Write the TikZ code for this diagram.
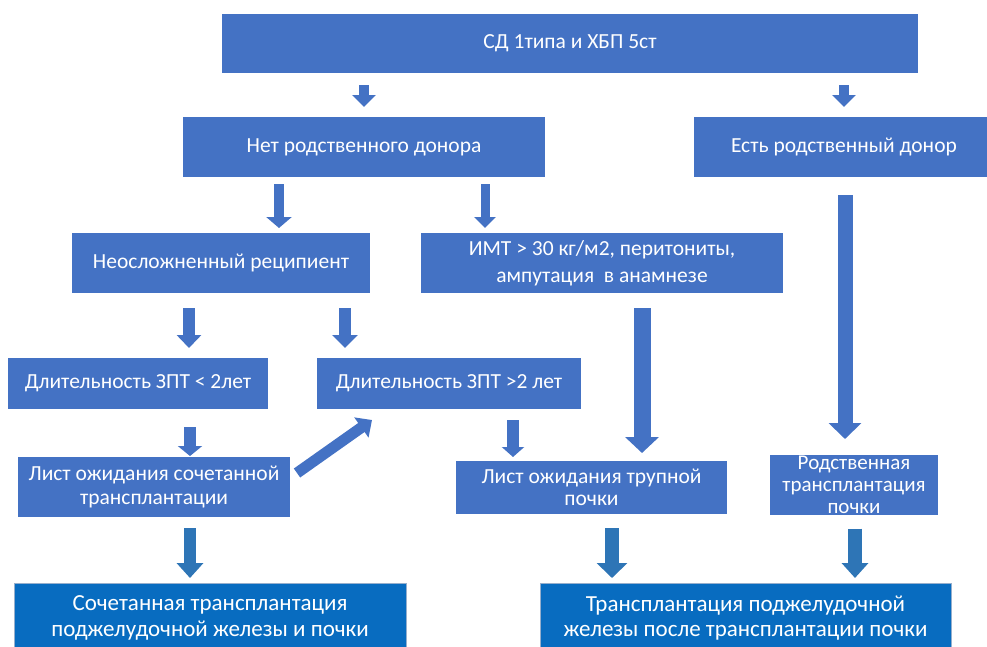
\documentclass[tikz,border=0pt]{standalone}
\usepackage{fontspec}
\setmainfont{Carlito}
\usetikzlibrary{arrows.meta,calc}
\definecolor{boxblue}{RGB}{68,114,196}
\definecolor{darkblue}{RGB}{8,108,192}
\definecolor{botedge}{RGB}{150,175,205}
\definecolor{arrdark}{RGB}{46,117,182}
\begin{document}
\begin{tikzpicture}[x=1pt,y=-1pt,
  box/.style={fill=boxblue, text=white, inner sep=1pt, outer sep=0pt,
    anchor=north west, align=center, font=\fontsize{21.5}{23.5}\selectfont},
  bot/.style={box, fill=darkblue, draw=botedge, line width=0.6pt,
    font=\fontsize{23}{25.5}\selectfont},
  wh/.style 2 args={minimum width=#1pt, minimum height=#2pt},
  fat/.style n args={3}{draw=boxblue, line width=#1,
    -{Triangle[width=#2,length=#3]}},
  fatdark/.style n args={3}{draw=arrdark, line width=#1,
    -{Triangle[width=#2,length=#3]}}]
\useasboundingbox (0,0) rectangle (987,646);
\clip (0,0) rectangle (987,646);

% boxes
\node[box, wh={696}{59}] (top) at (222,14) {СД 1типа и ХБП 5ст};
\node[box, wh={362}{60}] (nd) at (183,117) {Нет родственного донора};
\node[box, wh={300}{60}] (ed) at (694,117) {Есть родственный донор};
\node[box, wh={298}{60}] (neo) at (72,233) {Неосложненный реципиент};
\node[box, wh={362}{60}, font=\fontsize{21.5}{27}\selectfont] (imt) at (421,233)
  {ИМТ > 30 кг/м2, перитониты,\\ампутация\ \ в анамнезе};
\node[box, wh={260}{51}] (z2) at (8,358) {Длительность ЗПТ < 2лет};
\node[box, wh={264}{51}] (z2b) at (317,358) {Длительность ЗПТ >2 лет};
\node[box, wh={272}{60}] (ls) at (18,457) {Лист ожидания сочетанной\\трансплантации};
\node[box, wh={271}{53}, font=\fontsize{21.5}{22.5}\selectfont] (lt) at (456,461)
  {Лист ожидания трупной\\почки};
\node[box, wh={168}{59}, font=\fontsize{21}{22}\selectfont] (rt) at (770,455)
  {Родственная\\трансплантация\\почки};
\node[bot, wh={392}{70}] (bl) at (14,583)
  {Сочетанная трансплантация\\поджелудочной железы и почки};
\node[bot, wh={411}{70}] (br) at (540,583)
  {Трансплантация поджелудочной\\железы после трансплантации почки};

% arrow start points
\coordinate (a1) at ($(top.south)+(-206,12)$);
\coordinate (a2) at ($(top.south)+(274,12)$);
\coordinate (a3) at ($(nd.south)+(-85,7)$);
\coordinate (a4) at ($(nd.south)+(121,7)$);
\coordinate (a5) at ($(neo.south)+(-32,15)$);
\coordinate (a6) at ($(neo.south)+(124,15)$);
\coordinate (a7) at ($(imt.south)+(40,15)$);
\coordinate (a8) at ($(ed.south)+(1,18)$);
\coordinate (a9) at ($(z2.south)+(52,18)$);
\coordinate (a10) at ($(z2b.south)+(64,11)$);
\coordinate (d1) at ($(ls.north east)+(7,16)$);
\coordinate (d2) at ($(z2b.south west)+(55,11)$);
\coordinate (a12) at ($(ls.south)+(36,11)$);
\coordinate (a13) at ($(lt.south)+(20.5,14)$);
\coordinate (a14) at ($(rt.south)+(1,14)$);

% arrows
\draw[fat={10pt}{23pt}{12pt}, shorten >=10pt] (a1) -- (a1 |- nd.north);
\draw[fat={10pt}{23pt}{12pt}, shorten >=10pt] (a2) -- (a2 |- ed.north);
\draw[fat={10pt}{25pt}{11pt}, shorten >=5pt] (a3) -- (a3 |- neo.north);
\draw[fat={9pt}{21pt}{11pt}, shorten >=5pt] (a4) -- (a4 |- imt.north);
\draw[fat={12pt}{24pt}{13pt}, shorten >=10pt] (a5) -- (a5 |- z2.north);
\draw[fat={12pt}{25pt}{13pt}, shorten >=10pt] (a6) -- (a6 |- z2b.north);
\draw[fat={17pt}{33pt}{16pt}, shorten >=8pt] (a7) -- (a7 |- lt.north);
\draw[fat={15pt}{32pt}{16pt}, shorten >=16pt] (a8) -- (a8 |- rt.north);
\draw[fat={12pt}{24pt}{10pt}, shorten >=1pt] (a9) -- (a9 |- ls.north);
\draw[fat={12pt}{22pt}{10pt}, shorten >=4pt] (a10) -- (a10 |- lt.north);
\draw[fat={11pt}{24pt}{13pt}] (d1) -- (d2);
\draw[fatdark={12pt}{26pt}{15pt}, shorten >=5pt] (a12) -- (a12 |- bl.north);
\draw[fatdark={14pt}{30pt}{15pt}, shorten >=5pt] (a13) -- (a13 |- br.north);
\draw[fatdark={14pt}{26pt}{15pt}, shorten >=5pt] (a14) -- (a14 |- br.north);
\end{tikzpicture}
\end{document}
